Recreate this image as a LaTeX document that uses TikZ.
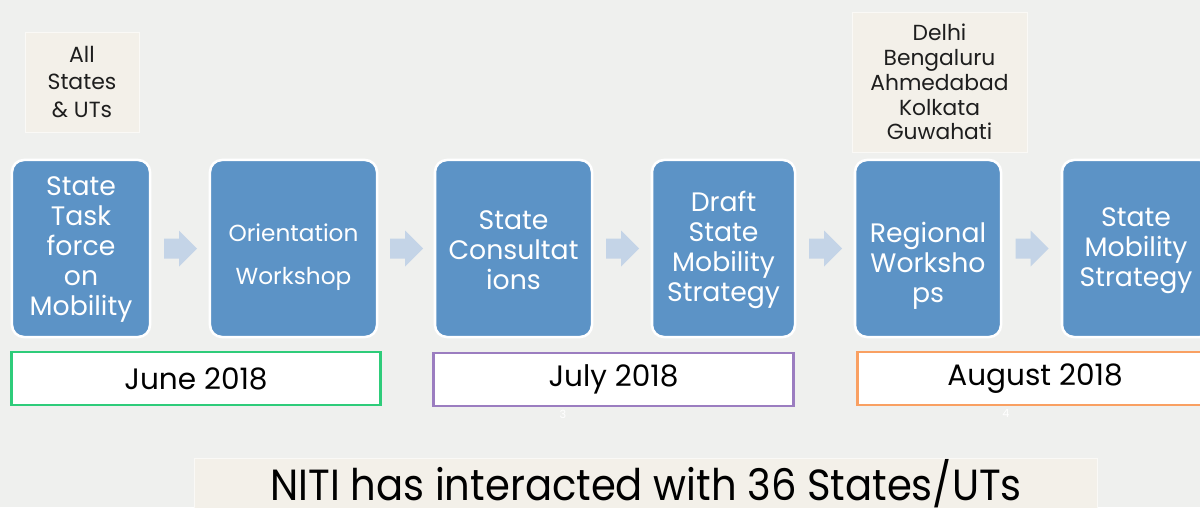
\documentclass[tikz,border=0pt]{standalone}
\usepackage{fontspec}
\setmainfont{Poppins}
\usetikzlibrary{calc}
\definecolor{bg}{HTML}{EFF0EE}
\definecolor{boxblue}{HTML}{5C93C6}
\definecolor{arrowblue}{HTML}{C4D4E7}
\definecolor{notefill}{HTML}{F3F0E9}
\definecolor{junegreen}{HTML}{2ECC7A}
\definecolor{julypurple}{HTML}{9B7DC0}
\definecolor{augorange}{HTML}{F9A062}
\definecolor{darktext}{HTML}{1E1E1E}
\begin{document}
\begin{tikzpicture}[x=0.025cm,y=-0.025cm,
  stepbox/.style={draw=white, line width=1.8pt, fill=boxblue, rounded corners=0.3cm,
    minimum height=4.425cm, inner sep=0pt},
  steptext/.style={text=white, align=center, inner sep=0pt,
    font=\fontsize{19}{21.3}\selectfont},
  datebox/.style={draw=#1, line width=2.1pt, fill=white, minimum height=1.325cm,
    inner sep=0pt, text=black, font=\fontsize{21}{24}\selectfont},
  notebox/.style={draw=white!60!notefill, line width=0.6pt, fill=notefill, inner sep=0pt,
    text=darktext, align=center},
  chevron/.style={fill=arrowblue},
  pagenum/.style={text=white, font=\fontsize{8}{9}\selectfont, inner sep=0pt}
]
\useasboundingbox (0,0) rectangle (1200,507);
\clip (0,0) rectangle (1200,507);
\fill[bg] (0,0) rectangle (1200,507);

% notes above
\node[notebox, minimum width=2.85cm, minimum height=2.5cm,
  font=\fontsize{15.6}{19.8}\selectfont] (n1) at (82,82) {All\\States\\\&\ UTs};
\node[notebox, minimum width=4.375cm, minimum height=3.5cm,
  font=\fontsize{15.5}{17.7}\selectfont] (n2) at (939.5,82)
  {Delhi\\Bengaluru\\Ahmedabad\\Kolkata\\Guwahati};

% step boxes
\node[stepbox, minimum width=3.45cm]  (b1) at (81,248.5) {};
\node[stepbox, minimum width=4.175cm] (b2) at (293.5,248.5) {};
\node[stepbox, minimum width=3.925cm] (b3) at (513.5,248.5) {};
\node[stepbox, minimum width=3.575cm] (b4) at (723.5,248.5) {};
\node[stepbox, minimum width=3.65cm]  (b5) at (928,248.5) {};
\node[stepbox, minimum width=3.75cm]  (b6) at (1137,248.5) {};

\node[steptext] (t1) at (81,249.5) {State\\Task\\force\\on\\Mobility};
\node[steptext, font=\fontsize{16.5}{30.5}\selectfont] (t2) at (293.5,257) {Orientation\\Workshop};
\node[steptext] (t3) at (513.5,250) {State\\Consultat\\ions};
\node[steptext] (t4) at (723.5,250) {Draft\\State\\Mobility\\Strategy};
\node[steptext] (t5) at (928,266) {Regional\\Worksho\\ps};
\node[steptext] (t6) at (1136,251) {State\\Mobility\\Strategy};

% chevron arrows between boxes
\foreach \a/\b [count=\i] in {b1/b2,b2/b3,b3/b4,b4/b5,b5/b6}{
  \coordinate (m\i) at ($(\a.east)!0.5!(\b.west)$);
  \fill[chevron] ([shift={(-16,-10)}]m\i) -- ([shift={(-1,-10)}]m\i)
    -- ([shift={(-1,-18)}]m\i) -- ([shift={(17,0)}]m\i)
    -- ([shift={(-1,18)}]m\i) -- ([shift={(-1,10)}]m\i)
    -- ([shift={(-16,10)}]m\i) -- cycle;
}

% date boxes
\node[datebox=junegreen, minimum width=9.2cm]   (d1) at (196,378.5) {June 2018};
\node[datebox=julypurple, minimum width=8.975cm] (d2) at (613.5,379.5) {July 2018};
\node[datebox=augorange, minimum width=8.85cm]  (d3) at (1035,378.5) {August 2018};

\node[pagenum] (p3) at (563,414) {3};
\node[pagenum] (p4) at (1006,413) {4};

% bottom banner
\node[notebox, minimum width=22.55cm, minimum height=1.8cm, anchor=north] (bn) at (646,458) {};
\node[text=black, inner sep=0pt, anchor=base, font=\fontsize{31}{34}\selectfont] (bt) at (646,500)
  {\scalebox{0.92}[1]{NITI has interacted with 36 States/UTs}};
\end{tikzpicture}
\end{document}
